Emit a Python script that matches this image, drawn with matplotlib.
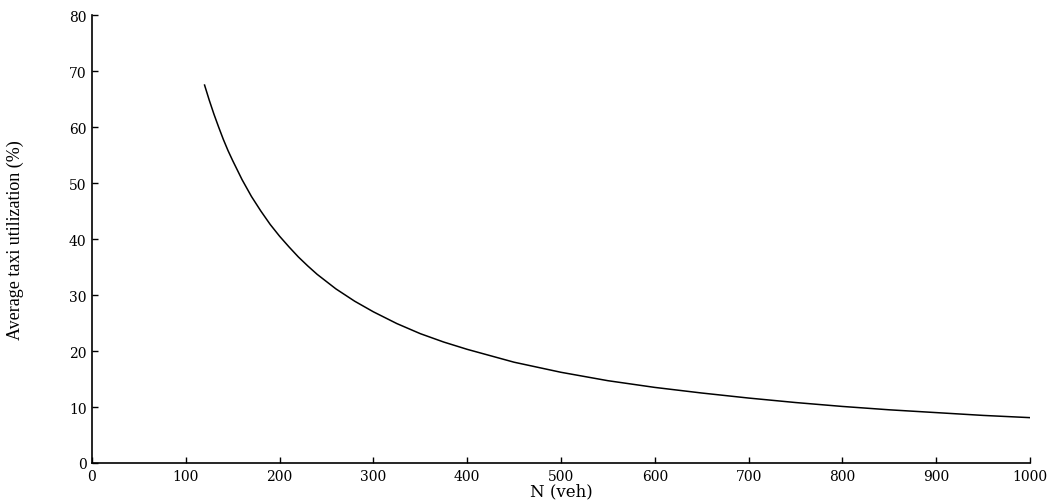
import matplotlib
matplotlib.use("Agg")
import matplotlib.pyplot as plt

# values
fleet_size = [120, 125, 130, 135, 140, 145, 150, 160, 170, 180, 190, 200, 210,
              220, 230, 240, 260, 280, 300, 325, 350, 375, 400, 450, 500, 550,
              600, 650, 700, 750, 800, 850, 900, 950, 1000]
utilization = [67.5, 64.8, 62.3, 60.0, 57.8, 55.8, 54.0, 50.6, 47.6, 45.0, 42.6,
               40.5, 38.6, 36.8, 35.2, 33.7, 31.1, 28.9, 27.0, 24.9, 23.1, 21.6,
               20.3, 18.0, 16.2, 14.7, 13.5, 12.5, 11.6, 10.8, 10.1, 9.5, 9.0,
               8.5, 8.1]
x_ticks = list(range(0, 1001, 100))
y_ticks = list(range(0, 81, 10))

plt.rcParams['font.family'] = ['DejaVu Serif']

fig = plt.figure(figsize=(10.55, 5.02), dpi=100)
ax = fig.add_axes([0.0872, 0.0757, 0.8891, 0.8923])

ax.plot(fleet_size, utilization, color='black', linewidth=1.1)

ax.set_xlim(0, 1000)
ax.set_ylim(0, 80)
ax.set_xticks(x_ticks)
ax.set_yticks(y_ticks)
ax.tick_params(direction='in', length=4, width=1, labelsize=10, pad=4)
for side in ['top', 'right']:
    ax.spines[side].set_visible(False)
for side in ['left', 'bottom']:
    ax.spines[side].set_linewidth(1.2)

ax.set_xlabel('N (veh)', fontsize=12, labelpad=0)
ax.set_ylabel('Average taxi utilization (%)', fontsize=13,
              family=['Liberation Serif'])
ax.yaxis.set_label_coords(-0.072, 0.5)

fig.savefig('out.png', dpi=100)
